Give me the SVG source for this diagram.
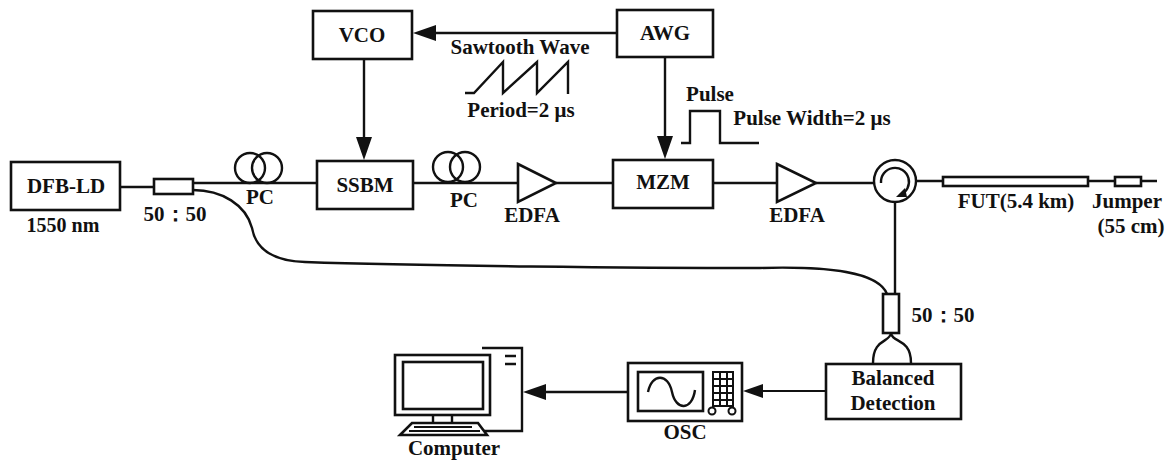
<svg xmlns="http://www.w3.org/2000/svg" width="1169" height="460" viewBox="0 0 1169 460">
<style>
text{font-family:"Liberation Serif","Times New Roman",serif;font-weight:bold;font-size:21px;fill:#111;text-anchor:middle}
.s{font-size:20px}
.b{fill:#fff;stroke:#111;stroke-width:2.6}
.l{fill:none;stroke:#111;stroke-width:2.4}
.t{fill:none;stroke:#111;stroke-width:2}
.a{fill:#111;stroke:none}
</style>
<rect width="1169" height="460" fill="#fff"/>
<g id="connectors">
<path class="l" d="M120 187H154M193 183H317M413 183H518M556 183H613M713 183H777M816 183H874M916 181H943M1088 181H1115M1141 181H1157"/>
<path class="l" d="M193 190C222 190 246 205 252 228C256 250 275 261 305 262C420 266 640 268 760 268C830 266 878 272 887 294"/>
<path class="l" d="M895 202V294"/>
<path class="l" d="M891 333C890 343 873 338 873 363M891 333C892 343 911 338 911 363"/>
<path class="t" d="M826 391H762"/>
<path class="a" d="M743 391L763 384V398Z"/>
<path class="l" d="M628 392H543"/>
<path class="a" d="M523 392L546 384V400Z"/>
<path class="l" d="M617 33H432"/>
<path class="a" d="M413 33L436 25V41Z"/>
<path class="l" d="M364 59V140"/>
<path class="a" d="M364 160L356 137H372Z"/>
<path class="l" d="M665 58V138"/>
<path class="a" d="M665 159L657 136H673Z"/>
</g>
<g id="dfb"><rect class="b" x="11" y="162" width="109" height="48"/><text x="66" y="193">DFB-LD</text><text class="s" x="63" y="232">1550 nm</text></g>
<g id="coupler1"><rect class="b" x="154" y="179" width="39" height="15"/><text x="175" y="221">50：50</text></g>
<g id="pc1"><circle class="l" cx="250" cy="168" r="15"/><circle class="l" cx="267" cy="168" r="15"/><text x="260" y="204">PC</text></g>
<g id="ssbm"><rect class="b" x="317" y="161" width="96" height="48"/><text x="365" y="192">SSBM</text></g>
<g id="vco"><rect class="b" x="313" y="11" width="99" height="48"/><text x="362" y="42">VCO</text></g>
<g id="awg"><rect class="b" x="617" y="10" width="96" height="47"/><text x="665" y="40">AWG</text></g>
<g id="sawtooth"><text x="520" y="54">Sawtooth Wave</text><path class="l" d="M465 93H474L503 62V93L537 62V93L568 62V94"/><text x="521" y="117">Period=2 μs</text></g>
<g id="pc2"><circle class="l" cx="448" cy="167" r="15"/><circle class="l" cx="465" cy="167" r="15"/><text x="464" y="207">PC</text></g>
<g id="edfa1"><path class="b" d="M518 164L556 183L518 202Z"/><text x="532" y="222">EDFA</text></g>
<g id="pulse"><text x="710" y="101">Pulse</text><path class="l" d="M681 143H690V111H720V143H759"/><text x="812" y="125">Pulse Width=2 μs</text></g>
<g id="mzm"><rect class="b" x="613" y="160" width="100" height="48"/><text x="663" y="189">MZM</text></g>
<g id="edfa2"><path class="b" d="M777 164L816 183L777 202Z"/><text x="797" y="222">EDFA</text></g>
<g id="circulator"><circle class="l" cx="895" cy="181" r="21"/><path class="l" d="M881 183A14 14 0 1 1 900 195"/><path class="a" d="M896 197L905 188L907 197Z"/></g>
<g id="fut"><rect class="b" x="943" y="177" width="145" height="9"/><text x="1016" y="208">FUT(5.4 km)</text></g>
<g id="jumper"><rect class="b" x="1115" y="177" width="26" height="9"/><text x="1127" y="208">Jumper</text><text x="1131" y="233">(55 cm)</text></g>
<g id="coupler2"><rect class="b" x="883" y="294" width="16" height="39"/><text x="943" y="322">50：50</text></g>
<g id="balanced"><rect class="b" x="826" y="364" width="135" height="55"/><text x="893" y="385">Balanced</text><text x="893" y="410">Detection</text></g>
<g id="osc"><rect class="b" x="628" y="363" width="114" height="58"/><rect class="b" x="638" y="372" width="65" height="39"/><path class="l" d="M648 392C652 373 668 373 672 392C676 411 692 411 695 390"/><path class="t" d="M713 372H733V406H713ZM713 379H733M713 386H733M713 393H733M713 400H733M720 372V406M727 372V406"/><circle class="t" cx="712" cy="411" r="3.5" fill="#fff"/><circle class="t" cx="732" cy="411" r="3.5"/><text x="685" y="439">OSC</text></g>
<g id="computer"><path class="l" d="M482 348H522V431H482"/><path class="l" d="M505 356H516M505 364H516"/><rect class="b" x="395" y="355" width="95" height="60"/><rect class="b" x="403" y="362" width="80" height="47"/><path class="l" d="M433 415V423M452 415V423"/><path class="b" d="M400 435L412 423H478L487 435Z"/><path class="t" d="M414 427H472M409 431H480"/><text x="454" y="455">Computer</text></g>
</svg>
